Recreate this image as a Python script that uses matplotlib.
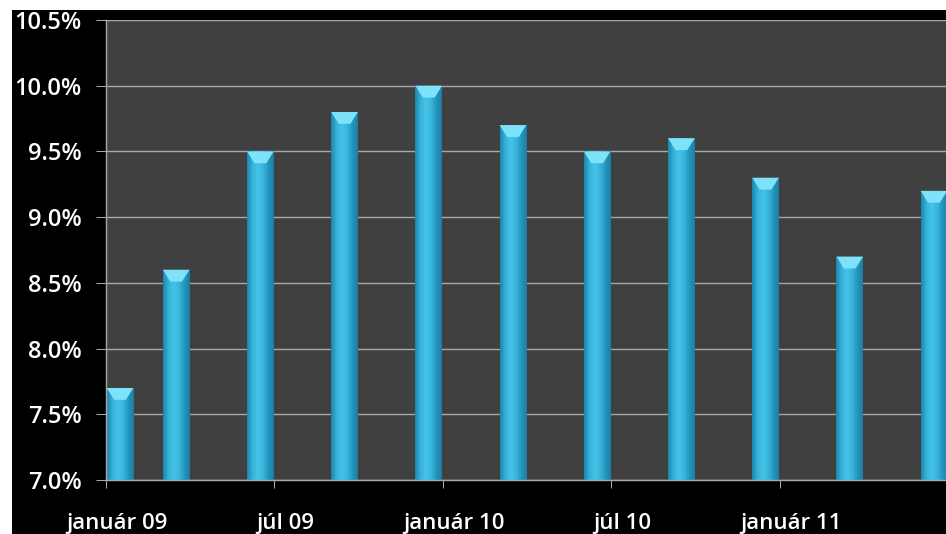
import numpy as np
import matplotlib
matplotlib.use("Agg")
import matplotlib.pyplot as plt
import matplotlib.transforms as mtrans
from matplotlib.patches import Rectangle, Polygon
from matplotlib.colors import LinearSegmentedColormap
from matplotlib.ticker import FuncFormatter

# months since január 09 for each observation
months = [0, 2, 5, 8, 11, 14, 17, 20, 23, 26, 29]
values = [7.7, 8.6, 9.5, 9.8, 10.0, 9.7, 9.5, 9.6, 9.3, 8.7, 9.2]
tick_months = [0, 6, 12, 18, 24]
tick_labels = ["január 09", "júl 09", "január 10", "júl 10", "január 11"]

W, H = 946, 534
fig = plt.figure(figsize=(W / 100, H / 100), dpi=100, facecolor="white")
# black slide background with thin white border on top/left
fig.add_artist(Rectangle((12 / W, 0), 1, (H - 10) / H, transform=fig.transFigure,
                         facecolor="black", edgecolor="none", zorder=-5))

ax = fig.add_axes([106 / W, 54 / H, 842 / W, 460 / H])
ax.set_facecolor("#404040")
ax.set_xlim(0, 30)
ax.set_ylim(7.0, 10.5)

ax.set_yticks(np.arange(7.0, 10.51, 0.5))
ax.yaxis.set_major_formatter(FuncFormatter(lambda v, p: f"{v:.1f}%"))
ax.grid(axis="y", color="#a8a8a8", linewidth=1.0)
ax.set_axisbelow(True)

ax.set_xticks(tick_months)
ax.set_xticklabels(tick_labels)

for s in ["top", "right"]:
    ax.spines[s].set_visible(False)
for s in ["left", "bottom"]:
    ax.spines[s].set_color("#a8a8a8")
    ax.spines[s].set_linewidth(1.0)

ax.tick_params(axis="y", colors="#a8a8a8", labelcolor="white", length=7.2, width=0.75,
               pad=10.5, labelsize=17)
ax.tick_params(axis="x", colors="#a8a8a8", labelcolor="white", length=6, width=0.75,
               pad=17.5, labelsize=16)
shift = mtrans.ScaledTranslation(11 / 100, 0, fig.dpi_scale_trans)
for lbl in ax.get_xticklabels():
    lbl.set_transform(lbl.get_transform() + shift)
for lbl in ax.get_xticklabels() + ax.get_yticklabels():
    lbl.set_fontfamily("Open Sans")
    lbl.set_fontweight("semibold")

cmap = LinearSegmentedColormap.from_list(
    "bar", ["#1d86ab", "#36b3da", "#45c3e8", "#38b6dd", "#2596bd", "#1b7ea2"])
grad = np.linspace(0, 1, 64).reshape(1, -1)
bw = 0.95
for m, v in zip(months, values):
    x0 = m + 0.5 - bw / 2
    rect = Rectangle((x0, 7.0), bw, v - 7.0, facecolor="none", edgecolor="none")
    ax.add_patch(rect)
    im = ax.imshow(grad, cmap=cmap, aspect="auto", extent=(x0, x0 + bw, 7.0, v),
                   interpolation="bicubic", zorder=2)
    im.set_clip_path(rect)
    # light bevel on the top of each bar
    ax.add_patch(Polygon([(x0, v), (x0 + bw, v), (x0 + bw * 0.72, v - 0.09),
                          (x0 + bw * 0.28, v - 0.09)], closed=True,
                         facecolor="#7fe2fb", edgecolor="none", zorder=3))

ax.set_xlim(0, 30)
ax.set_ylim(7.0, 10.5)

fig.savefig("out.png", dpi=100, facecolor=fig.get_facecolor())
